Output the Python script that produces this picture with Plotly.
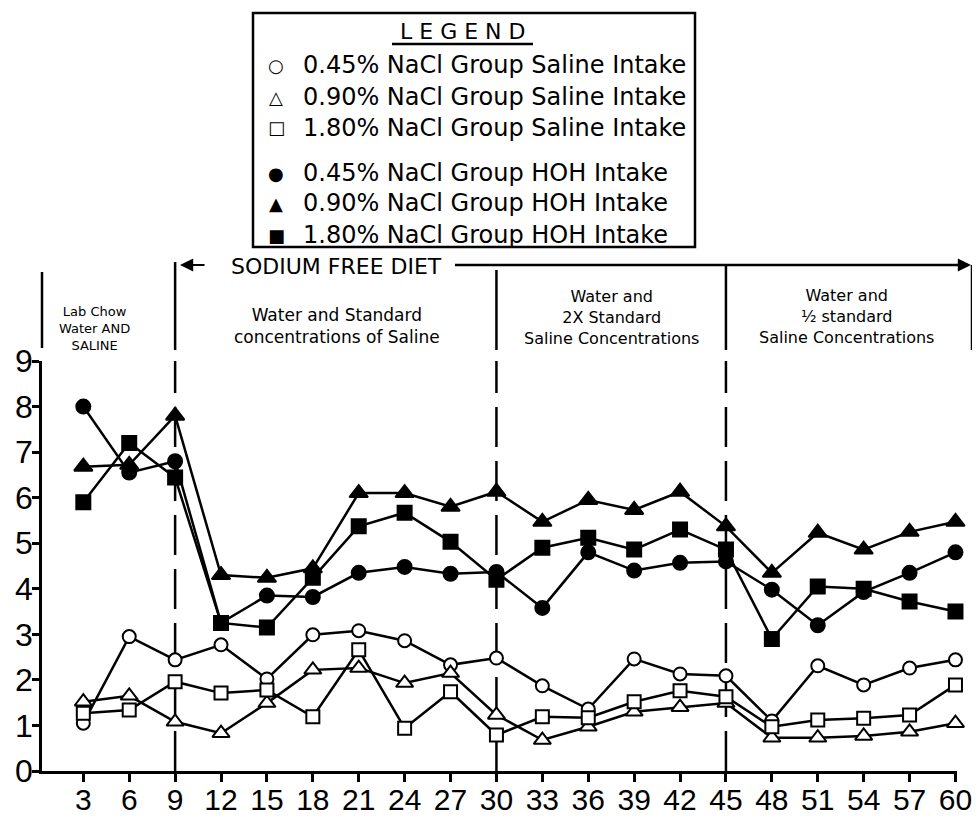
import plotly.graph_objects as go

# ---------------- data ----------------
days = [3, 6, 9, 12, 15, 18, 21, 24, 27, 30, 33, 36, 39, 42, 45, 48, 51, 54, 57, 60]

saline_045 = [1.05, 2.95, 2.44, 2.77, 2.02, 2.99, 3.08, 2.86, 2.33, 2.48,
              1.87, 1.36, 2.46, 2.13, 2.09, 1.10, 2.31, 1.89, 2.26, 2.44]
saline_090 = [1.52, 1.65, 1.08, 0.83, 1.49, 2.22, 2.26, 1.93, 2.15, 1.23,
              0.68, 0.97, 1.30, 1.40, 1.49, 0.73, 0.73, 0.77, 0.86, 1.05]
saline_180 = [1.27, 1.34, 1.96, 1.71, 1.78, 1.19, 2.66, 0.94, 1.74, 0.79,
              1.19, 1.17, 1.52, 1.76, 1.63, 0.97, 1.12, 1.16, 1.23, 1.89]
hoh_045 = [8.00, 6.55, 6.80, 3.25, 3.85, 3.82, 4.35, 4.48, 4.33, 4.37,
           3.58, 4.80, 4.40, 4.57, 4.60, 3.98, 3.20, 3.93, 4.35, 4.80]
hoh_090 = [6.68, 6.72, 7.80, 4.30, 4.24, 4.45, 6.10, 6.10, 5.80, 6.13,
           5.47, 5.95, 5.73, 6.13, 5.37, 4.35, 5.23, 4.86, 5.25, 5.47]
hoh_180 = [5.90, 7.20, 6.44, 3.25, 3.15, 4.24, 5.37, 5.67, 5.03, 4.20,
           4.90, 5.12, 4.86, 5.30, 4.86, 2.90, 4.05, 4.00, 3.72, 3.50]

x_ticks = days
y_ticks = [0, 1, 2, 3, 4, 5, 6, 7, 8, 9]
phase_bounds = [9, 30, 45]

legend_labels = [
    "0.45% NaCl Group Saline Intake",
    "0.90% NaCl Group Saline Intake",
    "1.80% NaCl Group Saline Intake",
    "0.45% NaCl Group HOH Intake",
    "0.90% NaCl Group HOH Intake",
    "1.80% NaCl Group HOH Intake",
]
legend_symbols = ["○", "△", "□", "●", "▲", "■"]

# ---------------- layout geometry ----------------
# the page body has an 8px margin, so page pixel = figure pixel + 8
OFF = 8
W, H = 980 - OFF, 819 - OFF
ML, MT = 42 - OFF, 361 - OFF
PW, PH = 915, 410
MR, MB = W - ML - PW, H - MT - PH


def px(x):
    return (x - OFF - ML) / PW


def py(y):
    return (MT + PH + OFF - y) / PH


FONT = "DejaVu Sans"
TICKFONT = "Liberation Sans"

series = [
    (saline_045, "circle", "white", 13),
    (saline_090, "triangle-up", "white", 15),
    (saline_180, "square", "white", 13),
    (hoh_045, "circle", "black", 14),
    (hoh_090, "triangle-up", "black", 16),
    (hoh_180, "square", "black", 14),
]

fig = go.Figure()
for (vals, sym, fill, size), name in zip(series, legend_labels):
    fig.add_trace(go.Scatter(
        x=days, y=vals, mode="lines+markers", name=name,
        line=dict(color="black", width=2.5),
        marker=dict(symbol=sym, color=fill, size=size,
                    line=dict(color="black", width=2)),
        showlegend=False, cliponaxis=False,
    ))

shapes = []
annotations = []

# dashed phase boundaries inside the plot
for b in phase_bounds:
    shapes.append(dict(type="line", xref="x", yref="y", x0=b, x1=b, y0=0, y1=9,
                       line=dict(color="black", width=2.5, dash="40px,14px"),
                       layer="below"))

# section header bars (left edge, phase bounds, right edge)
shapes.append(dict(type="line", xref="paper", yref="paper", x0=px(42), x1=px(42),
                   y0=py(348), y1=py(272), line=dict(color="black", width=2.5)))
for b, ytop in zip(phase_bounds, [262, 270, 265]):
    shapes.append(dict(type="line", xref="x", yref="paper", x0=b, x1=b,
                       y0=py(350), y1=py(ytop), line=dict(color="black", width=2.5)))
shapes.append(dict(type="line", xref="paper", yref="paper", x0=px(972), x1=px(972),
                   y0=py(350), y1=py(265), line=dict(color="black", width=2.5)))

# Sodium free diet arrow line
shapes.append(dict(type="line", xref="paper", yref="paper", x0=px(455), x1=px(968),
                   y0=py(265), y1=py(265), line=dict(color="black", width=2.5)))
annotations.append(dict(xref="paper", yref="paper", x=px(180), y=py(265), ax=26, ay=0,
                        text="", showarrow=True, arrowhead=2, arrowsize=1.2, arrowwidth=2.2,
                        arrowcolor="black"))
annotations.append(dict(xref="paper", yref="paper", x=px(971), y=py(265), ax=-40, ay=0,
                        text="", showarrow=True, arrowhead=2, arrowsize=1.2, arrowwidth=2.2,
                        arrowcolor="black"))
annotations.append(dict(xref="paper", yref="paper", x=px(336), y=py(266), text="SODIUM FREE DIET",
                        showarrow=False, font=dict(family=FONT, size=22, color="black"),
                        xanchor="center", yanchor="middle"))

section_texts = [
    (94, 328, "Lab Chow<br>Water AND<br>SALINE", 13),
    (337, 326, "Water and Standard<br>concentrations of Saline", 17),
    (611, 318, "Water and<br>2X Standard<br>Saline Concentrations", 16),
    (846, 317, "Water and<br>½ standard<br>Saline Concentrations", 16),
]
for cx, cy, txt, fs in section_texts:
    annotations.append(dict(xref="paper", yref="paper", x=px(cx), y=py(cy), text=txt,
                            showarrow=False, font=dict(family=FONT, size=fs, color="black"),
                            xanchor="center", yanchor="middle", align="center"))

# y axis arrow head
annotations.append(dict(xref="x", yref="y", x=0.3, y=9.1, ax=0, ay=22, text="", showarrow=True,
                        arrowhead=2, arrowsize=1.2, arrowwidth=2.5, arrowcolor="black"))

# legend box
shapes.append(dict(type="rect", xref="paper", yref="paper", x0=px(253), x1=px(695),
                   y0=py(247), y1=py(13), line=dict(color="black", width=2.5), fillcolor="white"))
annotations.append(dict(xref="paper", yref="paper", x=px(462), y=py(31), text="L E G E N D",
                        showarrow=False, font=dict(family=FONT, size=22, color="black"),
                        xanchor="center", yanchor="middle"))
shapes.append(dict(type="line", xref="paper", yref="paper", x0=px(392), x1=px(533),
                   y0=py(44), y1=py(44), line=dict(color="black", width=2.5)))
row_y = [65, 97, 128, 173, 203, 235]
for sym, lab, ry in zip(legend_symbols, legend_labels, row_y):
    annotations.append(dict(xref="paper", yref="paper", x=px(276), y=py(ry), text=sym,
                            showarrow=False, font=dict(family=FONT, size=18, color="black"),
                            xanchor="center", yanchor="middle"))
    annotations.append(dict(xref="paper", yref="paper", x=px(301), y=py(ry), text=lab,
                            showarrow=False, font=dict(family=FONT, size=24, color="black"),
                            xanchor="left", yanchor="middle"))

fig.update_layout(
    width=W, height=H,
    margin=dict(l=ML, r=MR, t=MT, b=MB, pad=0, autoexpand=False),
    paper_bgcolor="white", plot_bgcolor="white",
    shapes=shapes, annotations=annotations,
    showlegend=False,
    xaxis=dict(range=[0.3, 60.1], tickmode="array", tickvals=x_ticks,
               ticktext=[str(v) for v in x_ticks], automargin=False,
               showline=True, linecolor="black", linewidth=2.5,
               ticks="outside", ticklen=8, tickwidth=2.5, tickcolor="black",
               showgrid=False, zeroline=False, ticklabelstandoff=-8,
               tickfont=dict(family=TICKFONT, size=30, color="black")),
    yaxis=dict(range=[0, 9], tickmode="array", tickvals=y_ticks, automargin=False,
               showline=True, linecolor="black", linewidth=2.5,
               ticks="outside", ticklen=7, tickwidth=2.5, tickcolor="black",
               showgrid=False, zeroline=False, ticklabelstandoff=-7,
               tickfont=dict(family=TICKFONT, size=32, color="black")),
)

fig.write_html("out.html")
